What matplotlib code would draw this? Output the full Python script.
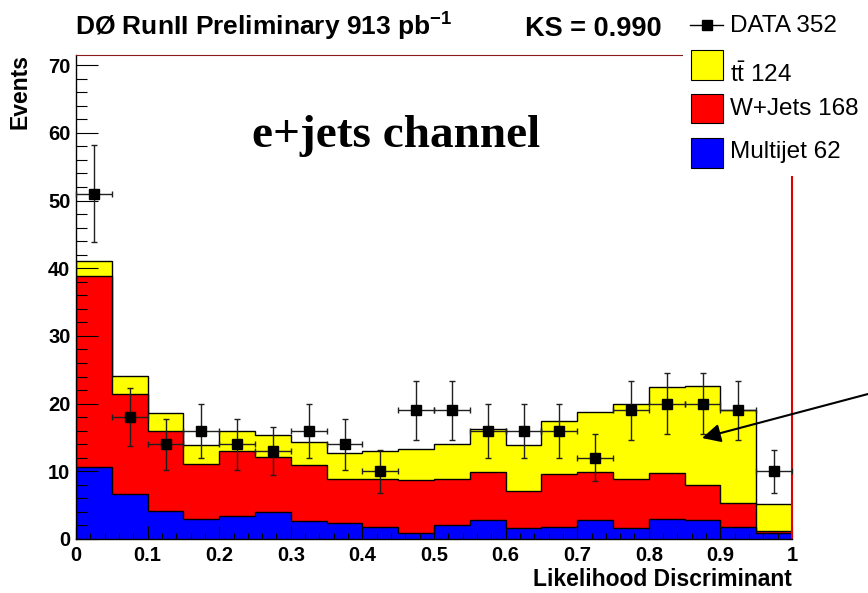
import matplotlib
matplotlib.use("Agg")
import matplotlib.pyplot as plt
import numpy as np
from matplotlib.patches import Rectangle
from matplotlib.lines import Line2D
from matplotlib.ticker import MultipleLocator, FuncFormatter

plt.rcParams["font.family"] = ["Liberation Sans", "DejaVu Sans"]
plt.rcParams["mathtext.fontset"] = "custom"
plt.rcParams["mathtext.rm"] = "Liberation Sans"
plt.rcParams["mathtext.bf"] = "Liberation Sans:bold"
plt.rcParams["mathtext.it"] = "Liberation Sans:italic"

# Likelihood discriminant histogram, 20 bins on [0, 1]
bin_edges = np.linspace(0.0, 1.0, 21)
data_counts = [51, 18, 14, 16, 14, 13, 16, 14, 10, 19,
               19, 16, 16, 16, 12, 19, 20, 20, 19, 10]
multijet = [10.6, 6.65, 4.1, 2.95, 3.45, 3.94, 2.66, 2.3, 1.82, 0.84,
            2.1, 2.8, 1.57, 1.8, 2.8, 1.67, 3.0, 2.8, 1.82, 0.84]
wjets = [28.2, 14.75, 11.9, 8.15, 9.6, 8.13, 8.27, 6.6, 6.98, 7.86,
         6.8, 7.15, 5.53, 7.75, 7.05, 7.23, 6.7, 5.18, 3.45, 0.34]
ttbar = [2.2, 2.7, 2.66, 2.8, 2.95, 3.23, 3.44, 3.85, 4.25, 4.6,
         5.1, 6.25, 6.8, 7.95, 8.95, 11.1, 12.8, 14.62, 13.78, 3.99]

legend_labels = ["DATA 352", r"$\mathrm{t\bar{t}}$ 124", "W+Jets 168", "Multijet 62"]
sample_colors = {"tt": "#ffff00", "w": "#ff0000", "mj": "#0000ff"}

W, H = 868, 593
fig = plt.figure(figsize=(W / 100, H / 100), dpi=100)
ax = fig.add_axes([76 / W, 1 - 539 / H, (792 - 76) / W, (539 - 55) / H])

mj = np.array(multijet)
wj = mj + np.array(wjets)
tot = wj + np.array(ttbar)

# stacked backgrounds: drawn below the axis ticks (axis zorder 2.5)
ax.stairs(tot, bin_edges, baseline=0, fill=True, facecolor=sample_colors["tt"],
          edgecolor="black", lw=1.0, zorder=1.0)
ax.stairs(wj, bin_edges, baseline=0, fill=True, facecolor=sample_colors["w"],
          edgecolor="black", lw=1.0, zorder=1.1)
ax.stairs(mj, bin_edges, baseline=0, fill=True, facecolor=sample_colors["mj"],
          edgecolor="black", lw=1.0, zorder=1.2)

centers = 0.5 * (bin_edges[:-1] + bin_edges[1:])
half_width = 0.5 * np.diff(bin_edges)
counts = np.array(data_counts, dtype=float)
ax.errorbar(centers, counts, yerr=np.sqrt(counts), xerr=half_width, fmt="s",
            color="black", ecolor="#202020", ms=7.5, elinewidth=1.0,
            capsize=2.5, capthick=1.0, zorder=5, clip_on=False)

ax.set_xlim(0, 1)
ax.set_ylim(0, 71.5)

ax.xaxis.set_major_locator(MultipleLocator(0.1))
ax.xaxis.set_minor_locator(MultipleLocator(0.02))
ax.yaxis.set_major_locator(MultipleLocator(10))
ax.yaxis.set_minor_locator(MultipleLocator(2))
ax.xaxis.set_major_formatter(FuncFormatter(lambda v, p: f"{v:g}"))
ax.yaxis.set_major_formatter(FuncFormatter(lambda v, p: f"{v:g}"))

ax.tick_params(axis="x", which="major", direction="in", length=9.5, width=0.8,
               labelsize=14.5, pad=5, top=False)
ax.tick_params(axis="x", which="minor", direction="in", length=4.5, width=0.8, top=False)
ax.tick_params(axis="y", which="major", direction="in", length=15.5, width=0.8,
               labelsize=14.5, pad=4, right=False)
ax.tick_params(axis="y", which="minor", direction="in", length=7.7, width=0.8, right=False)
for lab in ax.get_xticklabels() + ax.get_yticklabels():
    lab.set_fontweight("bold")

ax.spines["top"].set_color("#8b1a1a")
ax.spines["right"].set_color("#e00000")
ax.spines["right"].set_linewidth(1.5)
for s in ("left", "bottom"):
    ax.spines[s].set_color("black")
    ax.spines[s].set_linewidth(1.0)

ax.text(0.2458, 57.9, "e+jets channel", family=["Liberation Serif"],
        fontweight="bold", fontsize=34, ha="left", va="baseline", zorder=6)

fig.text(20 / W, 1 - 92 / H, "Events", rotation=90, fontsize=16.5,
         fontweight="bold", ha="center", va="center")
fig.text(792 / W, 1 - 586 / H, "Likelihood Discriminant", fontsize=16.5,
         fontweight="bold", ha="right", va="baseline")

fig.text(75 / W, 1 - 36 / H, r"DØ RunII Preliminary 913 pb$^{\mathbf{-1}}$",
         fontsize=19, fontweight="bold", ha="left", va="baseline")
fig.text(525 / W, 1 - 36 / H, "KS = 0.990", fontsize=19.5, fontweight="bold",
         ha="left", va="baseline")

# legend panel
fig.add_artist(Rectangle((683 / W, 1 - 176 / H), (W - 683) / W, 176 / H,
                         transform=fig.transFigure, facecolor="white",
                         edgecolor="none", zorder=10))
fig.add_artist(Line2D([690 / W, 723 / W], [1 - 25 / H, 1 - 25 / H],
                      transform=fig.transFigure, color="black", lw=1.0,
                      marker="", zorder=11))
fig.add_artist(Line2D([706.5 / W], [1 - 25 / H], transform=fig.transFigure,
                      color="black", marker="s", ms=7.5, lw=0, zorder=12))
fig.text(730 / W, 1 - 32 / H, legend_labels[0], fontsize=17.5,
         ha="left", va="baseline", zorder=12)

boxes = [(50, 80, sample_colors["tt"], legend_labels[1], 82),
         (94, 123, sample_colors["w"], legend_labels[2], 115),
         (138, 168, sample_colors["mj"], legend_labels[3], 158)]
for top, bot, col, lab, base in boxes:
    fig.add_artist(Rectangle((691 / W, 1 - bot / H), 32 / W, (bot - top) / H,
                             transform=fig.transFigure, facecolor=col,
                             edgecolor="black", lw=0.8, zorder=11))
    fig.text(730 / W, 1 - base / H, lab, fontsize=17.5, ha="left",
             va="baseline", zorder=12)

ax.annotate("", xy=(702 / W, 1 - 438 / H), xytext=(1.0, 1 - 394 / H),
            xycoords="figure fraction", textcoords="figure fraction",
            arrowprops=dict(arrowstyle="-|>", color="black", lw=1.5,
                            mutation_scale=28, shrinkA=0, shrinkB=0),
            annotation_clip=False, zorder=12)

fig.savefig("out.png", dpi=100)
